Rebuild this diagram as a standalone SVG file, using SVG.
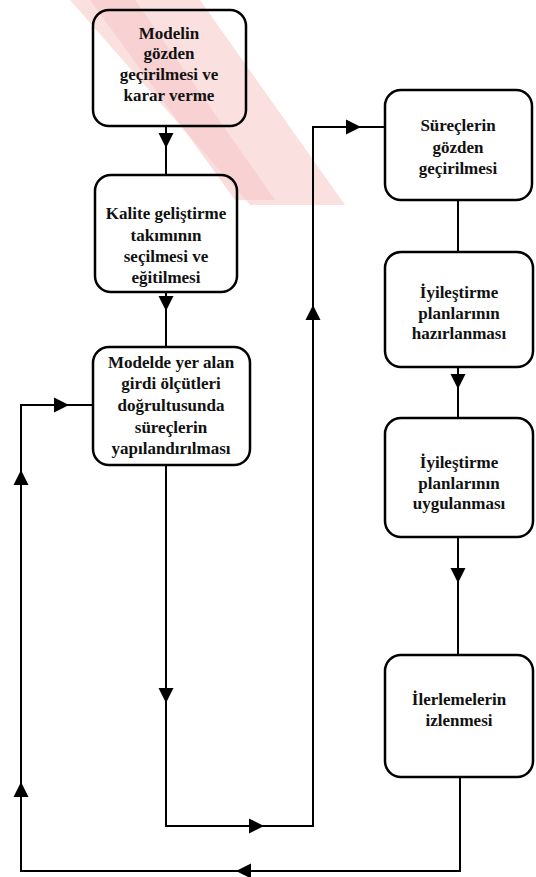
<svg xmlns="http://www.w3.org/2000/svg" xmlns:xlink="http://www.w3.org/1999/xlink" width="536" height="877" viewBox="0 0 536 877">
<style>
.box{fill:none;stroke:#000;stroke-width:2.5}
.lbl{font-family:"Liberation Serif","Times New Roman",serif;font-weight:bold;font-size:17px;fill:#111;text-anchor:middle;dominant-baseline:central}
.ln{fill:none;stroke:#000;stroke-width:2}
</style>
<defs>
<path id="ah" d="M0,0 L-15,-7.5 L-15,7.5 Z" fill="#000"/>
</defs>
<rect width="536" height="877" fill="#fff"/>
<g id="watermark">
<polygon points="70,0 200,0 345,205 250,205" fill="#fbe0e0"/>
<polygon points="90,0 135,0 275,200 235,200" fill="#f7c8c8" opacity="0.6"/>
</g>
<g id="connectors">
<line class="ln" x1="166" y1="126" x2="166" y2="175"/>
<use xlink:href="#ah" transform="translate(166,148) rotate(90)"/>
<line class="ln" x1="166" y1="292" x2="166" y2="347"/>
<use xlink:href="#ah" transform="translate(166,311) rotate(90)"/>
<polyline class="ln" points="166,465 166,826 313,826 313,127 385,127"/>
<use xlink:href="#ah" transform="translate(166,703) rotate(90)"/>
<use xlink:href="#ah" transform="translate(264,826)"/>
<use xlink:href="#ah" transform="translate(313,305) rotate(-90)"/>
<use xlink:href="#ah" transform="translate(361,127)"/>
<line class="ln" x1="458" y1="200" x2="458" y2="252"/>
<line class="ln" x1="458" y1="367" x2="458" y2="418"/>
<use xlink:href="#ah" transform="translate(458,389) rotate(90)"/>
<line class="ln" x1="458" y1="537" x2="458" y2="655"/>
<use xlink:href="#ah" transform="translate(458,583) rotate(90)"/>
<polyline class="ln" points="460,777 460,871 21,871 21,405 93,405"/>
<use xlink:href="#ah" transform="translate(236,871) rotate(180)"/>
<use xlink:href="#ah" transform="translate(21,782) rotate(-90)"/>
<use xlink:href="#ah" transform="translate(21,470) rotate(-90)"/>
<use xlink:href="#ah" transform="translate(69,405)"/>
</g>
<g id="n1">
<rect class="box" x="93" y="10" width="153" height="116" rx="16"/>
<text class="lbl" x="169" y="33">Modelin</text>
<text class="lbl" x="169" y="53">gözden</text>
<text class="lbl" x="169" y="74">geçirilmesi ve</text>
<text class="lbl" x="169" y="95">karar verme</text>
</g>
<g id="n2">
<rect class="box" x="95" y="175" width="142" height="117" rx="16"/>
<text class="lbl" x="166" y="213">Kalite geliştirme</text>
<text class="lbl" x="166" y="235">takımının</text>
<text class="lbl" x="166" y="256">seçilmesi ve</text>
<text class="lbl" x="166" y="277">eğitilmesi</text>
</g>
<g id="n3">
<rect class="box" x="93" y="347" width="157" height="118" rx="16"/>
<text class="lbl" x="171" y="362">Modelde yer alan</text>
<text class="lbl" x="171" y="383">girdi ölçütleri</text>
<text class="lbl" x="171" y="405">doğrultusunda</text>
<text class="lbl" x="171" y="427">süreçlerin</text>
<text class="lbl" x="171" y="448">yapılandırılması</text>
</g>
<g id="n4">
<rect class="box" x="385" y="90" width="147" height="110" rx="16"/>
<text class="lbl" x="458" y="125">Süreçlerin</text>
<text class="lbl" x="458" y="147">gözden</text>
<text class="lbl" x="458" y="168">geçirilmesi</text>
</g>
<g id="n5">
<rect class="box" x="385" y="252" width="148" height="115" rx="16"/>
<text class="lbl" x="459" y="292">İyileştirme</text>
<text class="lbl" x="459" y="313">planlarının</text>
<text class="lbl" x="459" y="333">hazırlanması</text>
</g>
<g id="n6">
<rect class="box" x="385" y="418" width="148" height="119" rx="16"/>
<text class="lbl" x="459" y="462">İyileştirme</text>
<text class="lbl" x="459" y="483">planlarının</text>
<text class="lbl" x="459" y="503">uygulanması</text>
</g>
<g id="n7">
<rect class="box" x="385" y="655" width="148" height="122" rx="16"/>
<text class="lbl" x="459" y="699">İlerlemelerin</text>
<text class="lbl" x="459" y="720">izlenmesi</text>
</g>
</svg>
